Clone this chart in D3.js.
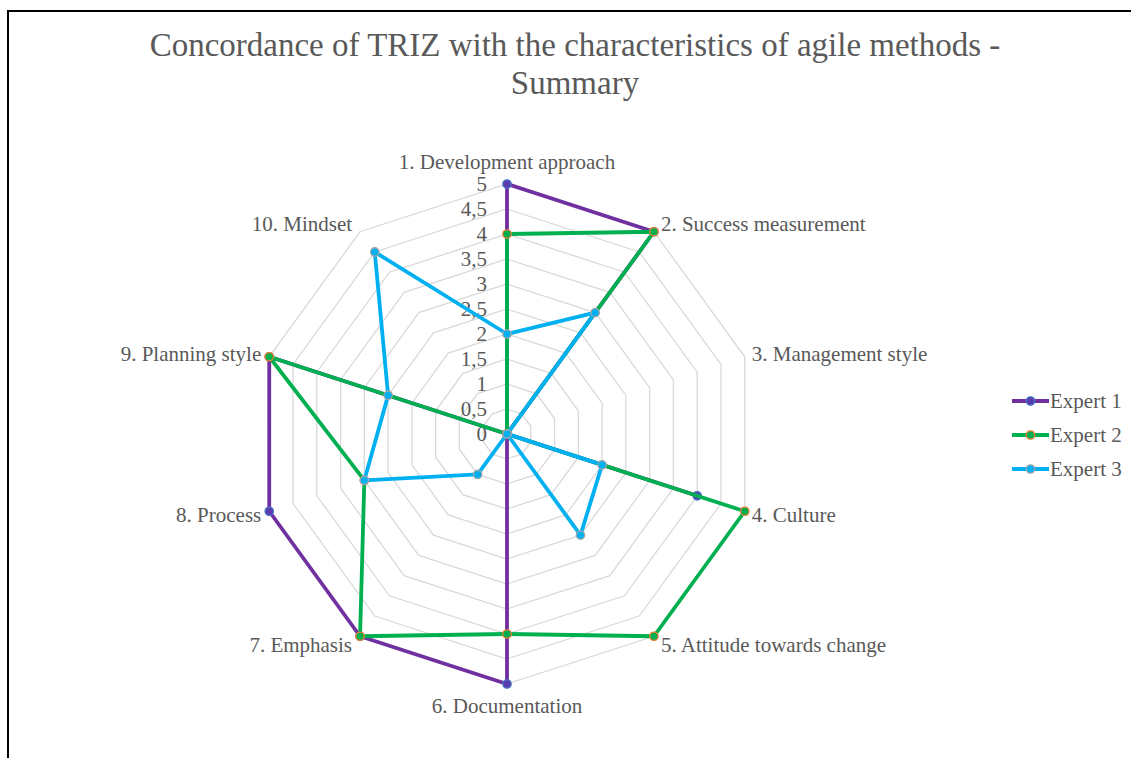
<!DOCTYPE html>
<html>
<head>
<meta charset="utf-8">
<script src="https://cdn.jsdelivr.net/npm/d3@7"></script>
</head>
<body style="margin:0">
<div id="chart"></div>
<script>
// categories and series values
var categories = ['1. Development approach', '2. Success measurement', '3. Management style', '4. Culture',
  '5. Attitude towards change', '6. Documentation', '7. Emphasis', '8. Process', '9. Planning style', '10. Mindset'];
var expert1 = [5, 5, 0, 4, 0, 5, 5, 5, 5, 0];
var expert2 = [4, 5, 0, 5, 5, 4, 5, 3, 5, 0];
var expert3 = [2, 3, 0, 2, 2.5, 0, 1, 3, 2.5, 4.5];
var seriesNames = ['Expert 1', 'Expert 2', 'Expert 3'];
var ticks = [0, 0.5, 1, 1.5, 2, 2.5, 3, 3.5, 4, 4.5, 5];

var width = 1131, height = 758;
var cx = 507, cy = 434, radius = 250;
var font = "'Liberation Serif'";
var textColor = '#595959';

var lineColors = ['#7030A0', '#00B050', '#00B0F0'];
var markerFill = ['#5B3CB0', '#00B050', '#00B0F0'];
var markerStroke = ['#4472C4', '#ED7D31', '#A5A5A5'];

var svg = d3.select('#chart').append('svg')
  .attr('width', width)
  .attr('height', height);

// outer frame (top + left edge visible)
svg.append('path')
  .attr('d', 'M8,' + height + ' L8,11 L' + width + ',11')
  .attr('fill', 'none')
  .attr('stroke', '#000')
  .attr('stroke-width', 2);

/* Title */
svg.selectAll('.title')
  .data(['Concordance of TRIZ with the characteristics of agile methods -', 'Summary'])
  .enter()
  .append('text')
  .attr('class', 'title')
  .attr('x', 575)
  .attr('y', (d, i) => 56 + i * 38)
  .attr('text-anchor', 'middle')
  .attr('fill', textColor)
  .attr('font-size', 33)
  .style('font-family', font)
  .text(d => d);

var r = d3.scaleLinear().domain([0, 5]).range([0, radius]);
var angle = d3.scaleLinear().domain([0, categories.length]).range([0, 2 * Math.PI]);

function pt(i, v) {
  var a = angle(i);
  return [cx + r(v) * Math.sin(a), cy - r(v) * Math.cos(a)];
}

var g = svg.append('g');

/* Grid rings */
g.selectAll('.ring')
  .data(ticks.filter(d => d > 0))
  .enter()
  .append('polygon')
  .attr('class', 'ring')
  .attr('points', d => categories.map((c, i) => pt(i, d).join(',')).join(' '))
  .attr('fill', 'none')
  .attr('stroke', '#D9D9D9')
  .attr('stroke-width', 1.3);

/* Tick labels along the first axis */
g.selectAll('.tick-label')
  .data(ticks)
  .enter()
  .append('text')
  .attr('class', 'tick-label')
  .attr('x', cx - 20)
  .attr('y', d => cy - r(d))
  .attr('dy', '0.35em')
  .attr('text-anchor', 'end')
  .attr('fill', textColor)
  .attr('font-size', 21)
  .style('font-family', font)
  .text(d => String(d).replace('.', ','));

/* Category labels */
g.selectAll('.cat-label')
  .data(categories)
  .enter()
  .append('text')
  .attr('class', 'cat-label')
  .attr('fill', textColor)
  .attr('font-size', 21)
  .style('font-family', font)
  .attr('x', (d, i) => {
    var p = pt(i, 5);
    var s = Math.sin(angle(i));
    return p[0] + (Math.abs(s) < 0.01 ? 0 : (s > 0 ? 7 : -8));
  })
  .attr('y', (d, i) => {
    var p = pt(i, 5);
    var c = Math.cos(angle(i));
    if (Math.abs(Math.sin(angle(i))) < 0.01) return p[1] - c * 22;
    return p[1] - c * 10;
  })
  .attr('dy', '0.35em')
  .attr('text-anchor', (d, i) => {
    var s = Math.sin(angle(i));
    return Math.abs(s) < 0.01 ? 'middle' : (s > 0 ? 'start' : 'end');
  })
  .text(d => d);

/* Series */
var data = [expert1, expert2, expert3];
var line = d3.line().curve(d3.curveLinearClosed);

var series = g.selectAll('.series')
  .data(data)
  .enter()
  .append('g')
  .attr('class', 'series');

series.append('path')
  .attr('d', d => line(d.map((v, i) => pt(i, v))))
  .attr('fill', 'none')
  .attr('stroke', (d, i) => lineColors[i])
  .attr('stroke-width', 3.8)
  .attr('stroke-linejoin', 'round');

series.each(function(d, si) {
  d3.select(this).selectAll('circle')
    .data(d)
    .enter()
    .append('circle')
    .attr('cx', (v, i) => pt(i, v)[0])
    .attr('cy', (v, i) => pt(i, v)[1])
    .attr('r', 4.2)
    .attr('fill', markerFill[si])
    .attr('stroke', markerStroke[si])
    .attr('stroke-width', 1.3);
});

/* Legend */
var legend = svg.append('g')
  .selectAll('.legend')
  .data(seriesNames)
  .enter()
  .append('g')
  .attr('class', 'legend')
  .attr('transform', (d, i) => 'translate(1012,' + (401 + i * 34) + ')');

legend.append('line')
  .attr('x1', 0).attr('x2', 37)
  .attr('stroke', (d, i) => lineColors[i])
  .attr('stroke-width', 3.8);

legend.append('circle')
  .attr('cx', 18.5)
  .attr('r', 4.2)
  .attr('fill', (d, i) => markerFill[i])
  .attr('stroke', (d, i) => markerStroke[i])
  .attr('stroke-width', 1.3);

legend.append('text')
  .attr('x', 38)
  .attr('dy', '0.35em')
  .attr('fill', textColor)
  .attr('font-size', 21)
  .style('font-family', font)
  .text(d => d);
</script>
</body>
</html>
